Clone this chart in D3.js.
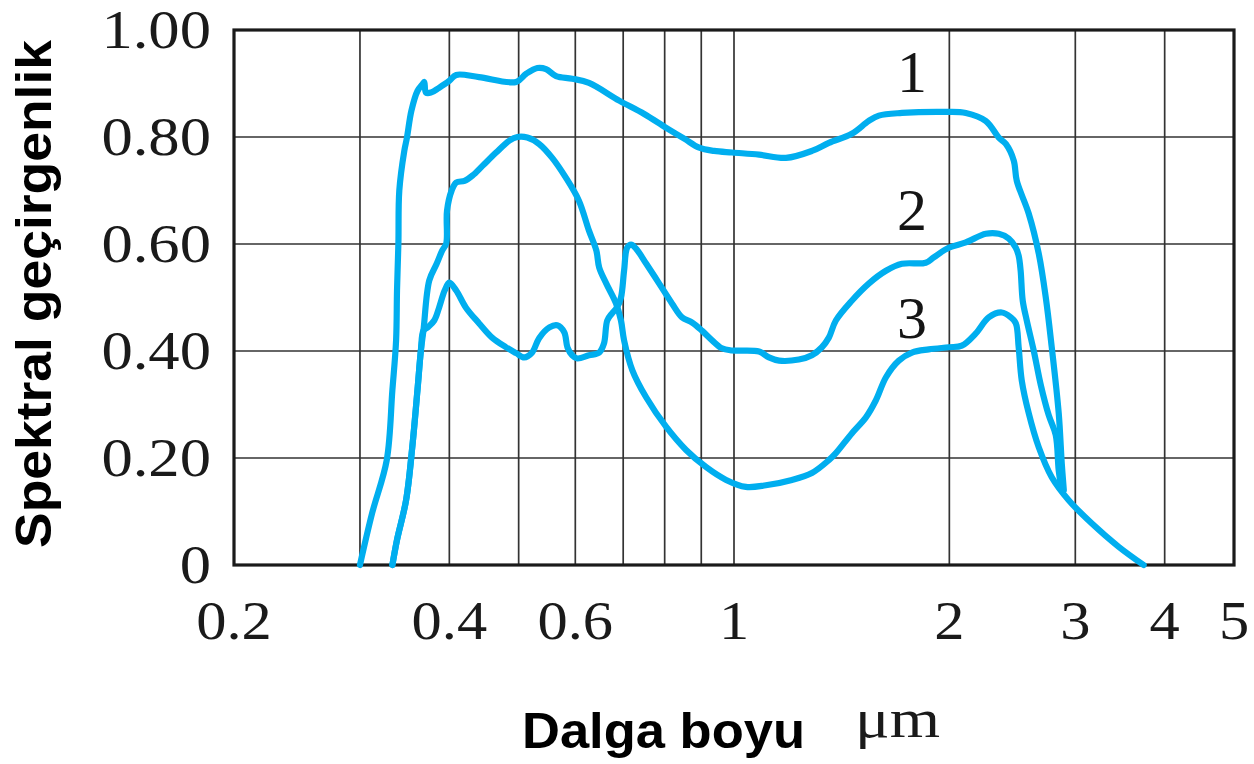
<!DOCTYPE html>
<html>
<head>
<meta charset="utf-8">
<script src="https://cdn.jsdelivr.net/npm/d3@7"></script>
<style>
  html, body { margin: 0; padding: 0; background: #ffffff; }
  svg { display: block; }
</style>
</head>
<body>
<script>
// ---------------- data (wavelength in µm, spectral transmittance) ----------------
const wl1 = [0.300,0.312,0.327,0.333,0.337,0.338,0.3395,0.3405,0.346,0.349,0.354,0.361,0.367,0.369,0.371,0.377,0.387,0.400,0.409,0.440,0.496,0.512,0.531,0.546,0.564,0.594,0.627,0.691,0.749,0.804,0.852,0.894,0.938,0.994,1.084,1.182,1.285,1.357,1.461,1.543,1.594,1.717,1.978,2.109,2.249,2.345,2.399,2.461,2.485,2.582,2.667,2.728,2.781,2.844,2.872,2.891];
const t1  = [0,0.097,0.196,0.327,0.42,0.513,0.601,0.70,0.774,0.799,0.849,0.886,0.899,0.903,0.883,0.883,0.892,0.905,0.916,0.912,0.903,0.918,0.929,0.927,0.914,0.909,0.901,0.868,0.843,0.817,0.797,0.78,0.774,0.771,0.767,0.761,0.774,0.789,0.806,0.83,0.840,0.845,0.847,0.845,0.83,0.799,0.787,0.756,0.718,0.657,0.582,0.50,0.407,0.284,0.19,0.14];

const wl2 = [0.333,0.338,0.348,0.355,0.361,0.365,0.368,0.373,0.381,0.387,0.394,0.400,0.409,0.422,0.440,0.459,0.480,0.496,0.509,0.522,0.534,0.552,0.566,0.579,0.585,0.594,0.604,0.627,0.648,0.658,0.665,0.675,0.686,0.695,0.702,0.709,0.718,0.730,0.754,0.786,0.819,0.846,0.874,0.902,0.932,0.962,0.994,1.084,1.119,1.156,1.232,1.285,1.327,1.357,1.388,1.461,1.543,1.631,1.717,1.854,1.902,1.996,2.109,2.249,2.345,2.422,2.477,2.500,2.516,2.533,2.566,2.624,2.685,2.754,2.817,2.844,2.872];
const t2  = [0,0.047,0.121,0.220,0.327,0.401,0.438,0.444,0.457,0.481,0.513,0.528,0.513,0.481,0.452,0.425,0.407,0.396,0.388,0.397,0.424,0.444,0.448,0.435,0.407,0.392,0.386,0.392,0.397,0.414,0.457,0.470,0.481,0.50,0.550,0.593,0.599,0.591,0.563,0.526,0.489,0.463,0.453,0.438,0.42,0.405,0.401,0.399,0.388,0.382,0.384,0.392,0.407,0.425,0.457,0.494,0.526,0.550,0.563,0.565,0.575,0.593,0.603,0.619,0.619,0.610,0.593,0.578,0.550,0.494,0.457,0.401,0.336,0.280,0.243,0.177,0.14];

const wl3 = [0.333,0.338,0.348,0.355,0.361,0.365,0.368,0.375,0.384,0.391,0.396,0.397,0.403,0.409,0.420,0.431,0.445,0.465,0.485,0.498,0.514,0.534,0.557,0.582,0.607,0.627,0.642,0.648,0.663,0.684,0.695,0.702,0.721,0.754,0.804,0.857,0.914,0.975,1.039,1.108,1.205,1.285,1.357,1.388,1.461,1.529,1.579,1.631,1.700,1.773,1.872,1.996,2.082,2.178,2.271,2.368,2.437,2.477,2.500,2.525,2.582,2.667,2.781,2.937,3.162,3.450,3.738];
const t3  = [0,0.047,0.121,0.220,0.327,0.401,0.438,0.532,0.563,0.588,0.601,0.662,0.70,0.715,0.718,0.728,0.746,0.771,0.793,0.800,0.799,0.787,0.761,0.724,0.681,0.625,0.588,0.556,0.526,0.489,0.457,0.42,0.364,0.313,0.258,0.215,0.183,0.159,0.146,0.149,0.159,0.172,0.196,0.209,0.246,0.276,0.308,0.351,0.382,0.397,0.403,0.407,0.410,0.433,0.463,0.472,0.463,0.452,0.407,0.345,0.284,0.220,0.164,0.121,0.078,0.034,0];

const seriesNames = ["1", "2", "3"];
const xTickValues = [0.2, 0.4, 0.6, 1, 2, 3, 4, 5];
const xTickLabels = ["0.2", "0.4", "0.6", "1", "2", "3", "4", "5"];
const xGridValues = [0.3, 0.4, 0.5, 0.6, 0.7, 0.8, 0.9, 1, 2, 3, 4];
const yTickValues = [0, 0.2, 0.4, 0.6, 0.8, 1.0];
const yTickLabels = ["0", "0.20", "0.40", "0.60", "0.80", "1.00"];
const xTitle = "Dalga boyu";
const xUnit = "\u03BCm";
const yTitle = "Spektral geçirgenlik";

// ---------------- drawing ----------------
const W = 1254, H = 764;
const svg = d3.select("body").append("svg").attr("width", W).attr("height", H);

const x = d3.scaleLog().domain([0.2, 5]).range([234, 1234]);
const y = d3.scaleLinear().domain([0, 1]).range([565, 30]);

const gridColor = "#333333";
const serif = "'Liberation Serif', 'Times New Roman', serif";
const sans = "'Liberation Sans', Arial, sans-serif";

// grid
svg.append("g").selectAll("line").data(xGridValues).join("line")
  .attr("x1", d => x(d)).attr("x2", d => x(d))
  .attr("y1", y(1)).attr("y2", y(0))
  .attr("stroke", gridColor).attr("stroke-width", 1.7);
svg.append("g").selectAll("line").data(yTickValues.filter(v => v > 0 && v < 1)).join("line")
  .attr("x1", x(0.2)).attr("x2", x(5))
  .attr("y1", d => y(d)).attr("y2", d => y(d))
  .attr("stroke", gridColor).attr("stroke-width", 1.7);

// frame
svg.append("rect")
  .attr("x", x(0.2)).attr("y", y(1))
  .attr("width", x(5) - x(0.2)).attr("height", y(0) - y(1))
  .attr("fill", "none").attr("stroke", "#1a1a1a").attr("stroke-width", 3.2);

// curves
const series = [
  wl1.map((w, i) => [w, t1[i]]),
  wl2.map((w, i) => [w, t2[i]]),
  wl3.map((w, i) => [w, t3[i]])
];
const line = d3.line().x(d => x(d[0])).y(d => y(d[1])).curve(d3.curveCatmullRom.alpha(0.5));
svg.append("g").selectAll("path").data(series).join("path")
  .attr("d", line)
  .attr("fill", "none")
  .attr("stroke", "#00AEEF")
  .attr("stroke-width", 6.2)
  .attr("stroke-linecap", "round")
  .attr("stroke-linejoin", "round");

// curve labels
const labelY = [92, 230, 338];
svg.append("g").selectAll("text").data(seriesNames).join("text")
  .attr("x", 912).attr("y", (d, i) => labelY[i])
  .attr("text-anchor", "middle")
  .attr("font-family", serif).attr("font-size", 60)
  .attr("fill", "#151515")
  .text(d => d);

// y tick labels
svg.append("g").selectAll("g").data(yTickValues).join("g")
  .attr("transform", d => `translate(211,${y(d) + 18})`)
  .append("text")
  .attr("transform", "scale(1.16,1)")
  .attr("text-anchor", "end")
  .attr("font-family", serif).attr("font-size", 54)
  .attr("fill", "#1a1a1a")
  .text((d, i) => yTickLabels[i]);

// x tick labels
svg.append("g").selectAll("g").data(xTickValues).join("g")
  .attr("transform", d => `translate(${x(d)},639)`)
  .append("text")
  .attr("transform", "scale(1.12,1)")
  .attr("text-anchor", "middle")
  .attr("font-family", serif).attr("font-size", 54)
  .attr("fill", "#1a1a1a")
  .text((d, i) => xTickLabels[i]);

// axis titles
svg.append("text")
  .attr("x", 522).attr("y", 748)
  .attr("font-family", sans).attr("font-weight", "bold").attr("font-size", 50)
  .attr("textLength", 283).attr("lengthAdjust", "spacingAndGlyphs")
  .attr("fill", "#000")
  .text(xTitle);

svg.append("text")
  .attr("x", 855).attr("y", 737)
  .attr("font-family", serif).attr("font-size", 54)
  .attr("textLength", 85).attr("lengthAdjust", "spacingAndGlyphs")
  .attr("fill", "#1a1a1a")
  .text(xUnit);

svg.append("text")
  .attr("transform", "translate(51,294) rotate(-90)")
  .attr("text-anchor", "middle")
  .attr("font-family", sans).attr("font-weight", "bold").attr("font-size", 50)
  .attr("textLength", 508).attr("lengthAdjust", "spacingAndGlyphs")
  .attr("fill", "#000")
  .text(yTitle);
</script>
</body>
</html>
